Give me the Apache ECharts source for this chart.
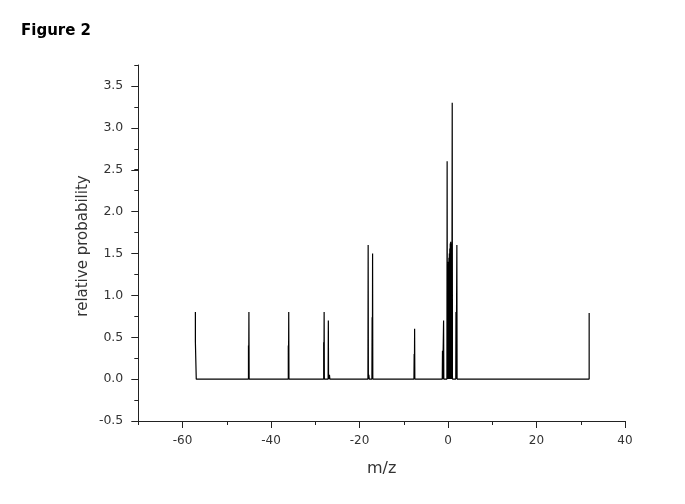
<!DOCTYPE html>
<html>
<head>
<meta charset="utf-8">
<title>Figure 2</title>
<script src="https://cdn.jsdelivr.net/npm/echarts@6/dist/echarts.min.js"></script>
<style>
  html, body { margin: 0; padding: 0; background: #fff; }
  #chart { width: 685px; height: 504px; }
</style>
</head>
<body>
<div id="chart"></div>
<script>
// stick spectrum: m/z position and relative probability
const mzValues = [
  -57.1, -57.1, -56.9, -56.9,
  -45.1, -45.1, -45.05, -45.0, -44.95,
  -36.1, -36.1, -36.05, -36.0, -35.95,
  -28.1, -28.1, -28.05, -28.0, -27.95,
  -27.1, -27.05, -27.0, -26.8, -26.7,
  -18.1, -18.05, -18.0, -17.9, -17.8,
  -17.2, -17.15, -17.1, -17.05, -17.0,
  -7.7, -7.65, -7.6, -7.55, -7.5,
  -1.3, -1.25, -1.2, -1.0, -0.95,
  -0.25, -0.2, -0.15, -0.1, -0.05, 0.0, 0.05, 0.1, 0.15, 0.2, 0.25,
  0.3, 0.35, 0.4, 0.45, 0.5, 0.55, 0.6, 0.65, 0.7, 0.75, 0.8, 0.85, 0.95, 1.0,
  1.75, 1.8, 1.85, 2.0, 2.05,
  31.9, 31.9
];
const probabilities = [
  0.80, 0.45, 0.45, 0,
  0, 0.40, 0, 0.80, 0,
  0, 0.40, 0, 0.80, 0,
  0, 0.44, 0, 0.80, 0,
  0, 0.70, 0, 0.05, 0,
  0, 1.60, 0, 0.05, 0,
  0, 0.74, 0, 1.50, 0,
  0, 0.30, 0, 0.60, 0,
  0, 0.34, 0, 0.70, 0,
  0, 2.60, 0, 1.34, 0, 1.36, 0, 1.40, 0, 1.45, 0,
  1.50, 0, 1.56, 0, 1.62, 0, 1.64, 0, 1.62, 0, 1.60, 0, 3.30, 0,
  0, 0.80, 0, 1.60, 0,
  0, 0.79
];

const xMajorTicks = { min: -60, max: 40, step: 20 };
const xMinorTicks = { min: -70, max: 40, step: 10 };
const yMajorTicks = { min: -0.5, max: 3.5, step: 0.5 };
const yMinorTicks = { min: -0.5, max: 3.75, step: 0.25 };

const spectrum = mzValues.map((mz, i) => [mz, probabilities[i]]);

const chart = echarts.init(document.getElementById('chart'), null, { renderer: 'canvas' });

const axisColor = '#222';
const font = 'DejaVu Sans';

// one grid per tick set, so minor and major ticks get their own lengths
const option = {
  animation: false,
  backgroundColor: '#fff',
  title: {
    text: 'Figure 2',
    left: 16,
    top: 19,
    textStyle: { fontFamily: font, fontSize: 15, fontWeight: 'bold', color: '#000' },
  },
  grid: [
    { left: 138.3, right: 60, top: 65, bottom: 83 },
    { left: 182.5, right: 60, top: 65, bottom: 83 },
    { left: 138.3, right: 60, top: 86, bottom: 83 },
  ],
  xAxis: [
    {
      gridIndex: 0,
      type: 'value',
      min: xMinorTicks.min,
      max: xMinorTicks.max,
      interval: xMinorTicks.step,
      name: 'm/z',
      nameLocation: 'middle',
      nameGap: 40,
      nameTextStyle: { fontFamily: font, fontSize: 16, color: '#333' },
      axisLine: { onZero: false, lineStyle: { color: axisColor, width: 1 } },
      axisTick: { length: 4, lineStyle: { color: axisColor } },
      axisLabel: { show: false },
      splitLine: { show: false },
    },
    {
      gridIndex: 1,
      type: 'value',
      min: xMajorTicks.min,
      max: xMajorTicks.max,
      interval: xMajorTicks.step,
      axisLine: { show: false, onZero: false },
      axisTick: { length: 7, lineStyle: { color: axisColor } },
      axisLabel: { margin: 14, fontFamily: font, fontSize: 12, color: '#333' },
      splitLine: { show: false },
    },
    { gridIndex: 2, type: 'value', min: -70, max: 40, show: false },
  ],
  yAxis: [
    {
      gridIndex: 0,
      type: 'value',
      min: yMinorTicks.min,
      max: yMinorTicks.max,
      interval: yMinorTicks.step,
      name: 'relative probability',
      nameLocation: 'middle',
      nameGap: 48,
      nameTextStyle: { fontFamily: font, fontSize: 15, color: '#333', padding: [0, 6, 0, 0] },
      axisLine: { show: true, onZero: false, lineStyle: { color: axisColor, width: 1 } },
      axisTick: { show: true, length: 4, lineStyle: { color: axisColor } },
      axisLabel: { show: false },
      splitLine: { show: false },
    },
    { gridIndex: 1, type: 'value', min: -0.5, max: 3.75, show: false },
    {
      gridIndex: 2,
      type: 'value',
      min: yMajorTicks.min,
      max: yMajorTicks.max,
      interval: yMajorTicks.step,
      axisLine: { show: false, onZero: false },
      axisTick: { show: true, length: 7, lineStyle: { color: axisColor } },
      axisLabel: {
        margin: 15,
        fontFamily: font,
        fontSize: 12.5,
        color: '#333',
        formatter: v => v.toFixed(1),
      },
      splitLine: { show: false },
    },
  ],
  series: [{
    name: 'probability',
    type: 'line',
    xAxisIndex: 0,
    yAxisIndex: 0,
    data: spectrum,
    showSymbol: false,
    symbol: 'none',
    sampling: null,
    lineStyle: { color: '#000', width: 1.2 },
    emphasis: { disabled: true },
  }],
};

chart.setOption(option);
</script>
</body>
</html>
